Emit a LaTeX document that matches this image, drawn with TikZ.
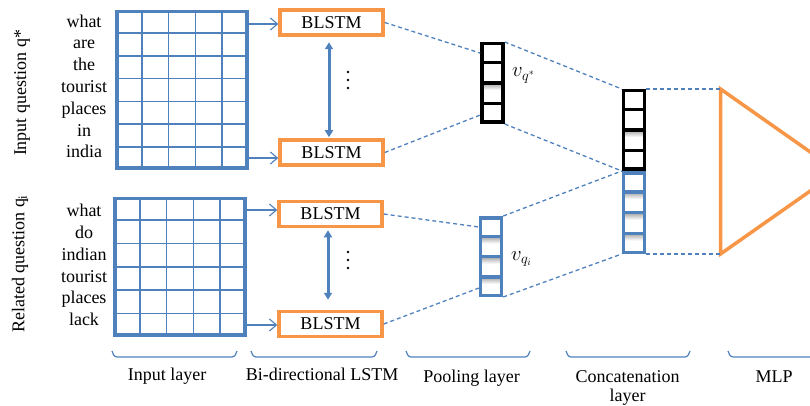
\documentclass[tikz,border=0pt]{standalone}
\usepackage{fontspec}
\setmainfont{Liberation Serif}
\usetikzlibrary{arrows.meta,calc}
\definecolor{oblue}{RGB}{79,129,189}
\definecolor{oorange}{RGB}{247,150,70}
\begin{document}
\begin{tikzpicture}[x=1pt,y=-1pt,
  txt/.style={font=\fontsize{18}{21.8}\selectfont, align=center, inner sep=0pt},
  lab/.style={font=\fontsize{18}{21.8}\selectfont, inner sep=0pt},
  grid/.style={draw=oblue, line width=3.5pt, inner sep=0pt},
  gline/.style={draw=oblue, line width=1.6pt},
  blstm/.style={draw=oorange, line width=3.5pt, fill=white, minimum width=103pt, minimum height=25pt, inner sep=0pt, font=\fontsize{18}{20}\selectfont},
  vecb/.style={draw=black, line width=3.5pt, inner sep=0pt, minimum width=21pt},
  vecbl/.style={draw=oblue, line width=3.5pt, inner sep=0pt, minimum width=21pt},
  cellk/.style={draw=black, line width=3.5pt},
  cellb/.style={draw=oblue, line width=3.5pt},
  conn/.style={draw=oblue, line width=1.3pt, dash pattern=on 4pt off 3pt},
  feed/.style={draw=oblue, line width=1.1pt, -{Straight Barb[length=7pt,width=12pt]}},
  link/.style={draw=oblue, line width=3pt, {Triangle[length=7pt,width=8pt]}-{Triangle[length=7pt,width=8pt]}},
  brace/.style={draw=oblue, line width=1.2pt, rounded corners=2.5pt},
  cellshade/.style={top color=black!28, bottom color=white},
]
\useasboundingbox (0,0) rectangle (810,406);
\clip (0,0) rectangle (810,406);

% rotated side labels
\node[lab, rotate=90] (lq1) at (22,93) {Input question q*};
\node[lab, rotate=90] (lq2) at (20,264) {Related question q\textsubscript{i}};

% words
\node[txt] (w1) at (84,86.3) {what\\are\\the\\tourist\\places\\in\\india};
\node[txt] (w2) at (84,265) {what\\do\\indian\\tourist\\places\\lack};

% input grids
\node[grid, minimum width=130pt, minimum height=156.5pt] (g1) at (182,90) {};
\foreach \i in {1,2,3,4}
  \draw[gline] ($(g1.north west)!{\i/5}!(g1.north east)$) -- ($(g1.south west)!{\i/5}!(g1.south east)$);
\foreach \j in {1,...,6}
  \draw[gline] ($(g1.north west)!{\j/7}!(g1.south west)$) -- ($(g1.north east)!{\j/7}!(g1.south east)$);

\node[grid, minimum width=130pt, minimum height=136.5pt] (g2) at (180,266.7) {};
\foreach \i in {1,2,3,4}
  \draw[gline] ($(g2.north west)!{\i/5}!(g2.north east)$) -- ($(g2.south west)!{\i/5}!(g2.south east)$);
\foreach \j in {1,...,5}
  \draw[gline] ($(g2.north west)!{\j/6}!(g2.south west)$) -- ($(g2.north east)!{\j/6}!(g2.south east)$);

% BLSTM boxes
\node[blstm] (b1a) at (331.5,22.5) {BLSTM};
\node[blstm] (b1b) at (331.5,152.5) {BLSTM};
\node[blstm] (b2a) at (330.5,214) {BLSTM};
\node[blstm] (b2b) at (330.5,324) {BLSTM};

% feed arrows
\coordinate (f1) at ([yshift=-1.5pt]b1a.west);
\coordinate (f2) at ([yshift=-5.5pt]b1b.west);
\coordinate (f3) at ([yshift=4pt]b2a.west);
\coordinate (f4) at ([yshift=-1pt]b2b.west);
\draw[feed] (f1 -| g1.east) -- (f1);
\draw[feed] (f2 -| g1.east) -- (f2);
\draw[feed] (f3 -| g2.east) -- (f3);
\draw[feed] (f4 -| g2.east) -- (f4);

% double arrows between BLSTMs
\draw[link] ([xshift=-2.5pt,yshift=-5.5pt]b1a.south) -- ([xshift=-2.5pt,yshift=1pt]b1b.north);
\draw[link] ([xshift=-2.5pt,yshift=-2pt]b2a.south) -- ([xshift=-2.5pt,yshift=10pt]b2b.north);

% vertical dots
\foreach \y in {72,80,88} \fill (348,\y) circle (1.4);
\foreach \y in {252,260,268} \fill (348,\y) circle (1.4);

% soft shading inside some cells
\shade[cellshade] (481.75,84.75) rectangle (503.25,90);
\shade[cellshade] (623.75,131.75) rectangle (644.25,137);
\foreach \t in {193.5,214.25,235} \shade[cellshade] (623.75,\t) rectangle (644.25,\t+5.5);
\foreach \t in {238,258.25,278.5} \shade[cellshade] (480.75,\t) rectangle (501.25,\t+5.5);

% pooling vectors
\node[vecb, minimum height=78.5pt] (p1) at (492.5,83) {};
\foreach \k in {1,2,3}
  \draw[cellk] ($(p1.north west)!{\k/4}!(p1.south west)$) -- ($(p1.north east)!{\k/4}!(p1.south east)$);
\node[vecbl, minimum height=77.5pt] (p2) at (491,256.5) {};
\foreach \k in {1,2,3}
  \draw[cellb] ($(p2.north west)!{\k/4}!(p2.south west)$) -- ($(p2.north east)!{\k/4}!(p2.south east)$);

% concatenation vector
\node[vecbl, minimum height=79.5pt] (c2) at (634,212.5) {};
\foreach \k in {1,2,3}
  \draw[cellb] ($(c2.north west)!{\k/4}!(c2.south west)$) -- ($(c2.north east)!{\k/4}!(c2.south east)$);
\node[vecb, minimum height=78.5pt] (c1) at (634,130) {};
\foreach \k in {1,2,3}
  \draw[cellk] ($(c1.north west)!{\k/4}!(c1.south west)$) -- ($(c1.north east)!{\k/4}!(c1.south east)$);

% vector labels
\node[inner sep=0pt, anchor=base west, font=\fontsize{20}{24}\selectfont] (vq1) at (512,77) {$v_{q^*}$};
\node[inner sep=0pt, anchor=base west, font=\fontsize{20}{24}\selectfont] (vq2) at (511,260) {$v_{q_i}$};

% MLP triangle
\coordinate (mlpT) at (720.5,89);
\coordinate (mlpB) at (720.5,254);
\coordinate (mlpA) at (838,171.5);
\draw[oorange, line width=3.5pt, line join=miter] (mlpT) -- (mlpB) -- (mlpA) -- cycle;

% dashed connectors
\draw[conn] (b1a.east) -- ($(p1.north west)!0.135!(p1.south west)$);
\draw[conn] (b1b.east) -- ($(p1.north west)!0.89!(p1.south west)$);
\draw[conn] (p1.north east) -- (c1.north west);
\draw[conn] (p1.south east) -- (c1.south west);
\draw[conn] (b2a.east) -- ($(p2.north west)!0.136!(p2.south west)$);
\draw[conn] (b2b.east) -- ($(p2.north west)!0.89!(p2.south west)$);
\draw[conn] (p2.north east) -- (c2.north west);
\draw[conn] (p2.south east) -- (c2.south west);
\draw[conn] (c1.north east) -- (mlpT);
\draw[conn] (c2.south east) -- (mlpB);

% braces
\draw[brace] (112,351) -- (114.5,357) -- (234.5,357) -- (237,351);
\draw[brace] (251,351) -- (253.5,357) -- (374.5,357) -- (377,351);
\draw[brace] (406,351) -- (408.5,357) -- (527.5,357) -- (530,351);
\draw[brace] (566,351) -- (568.5,357) -- (687.5,357) -- (690,351);
\draw[brace] (728,351) -- (730.5,357) -- (849.5,357) -- (852,351);

% layer labels
\node[lab, anchor=base] (l1) at (167,380.5) {Input layer};
\node[lab, anchor=base] (l2) at (322,380.5) {Bi-directional LSTM};
\node[lab, anchor=base] (l3) at (471.5,382) {Pooling layer};
\node[lab, anchor=base] (l4) at (627.5,382) {Concatenation};
\node[lab, anchor=base] (l4b) at (627.5,401) {layer};
\node[lab, anchor=base] (l5) at (774,382) {MLP};
\end{tikzpicture}
\end{document}
